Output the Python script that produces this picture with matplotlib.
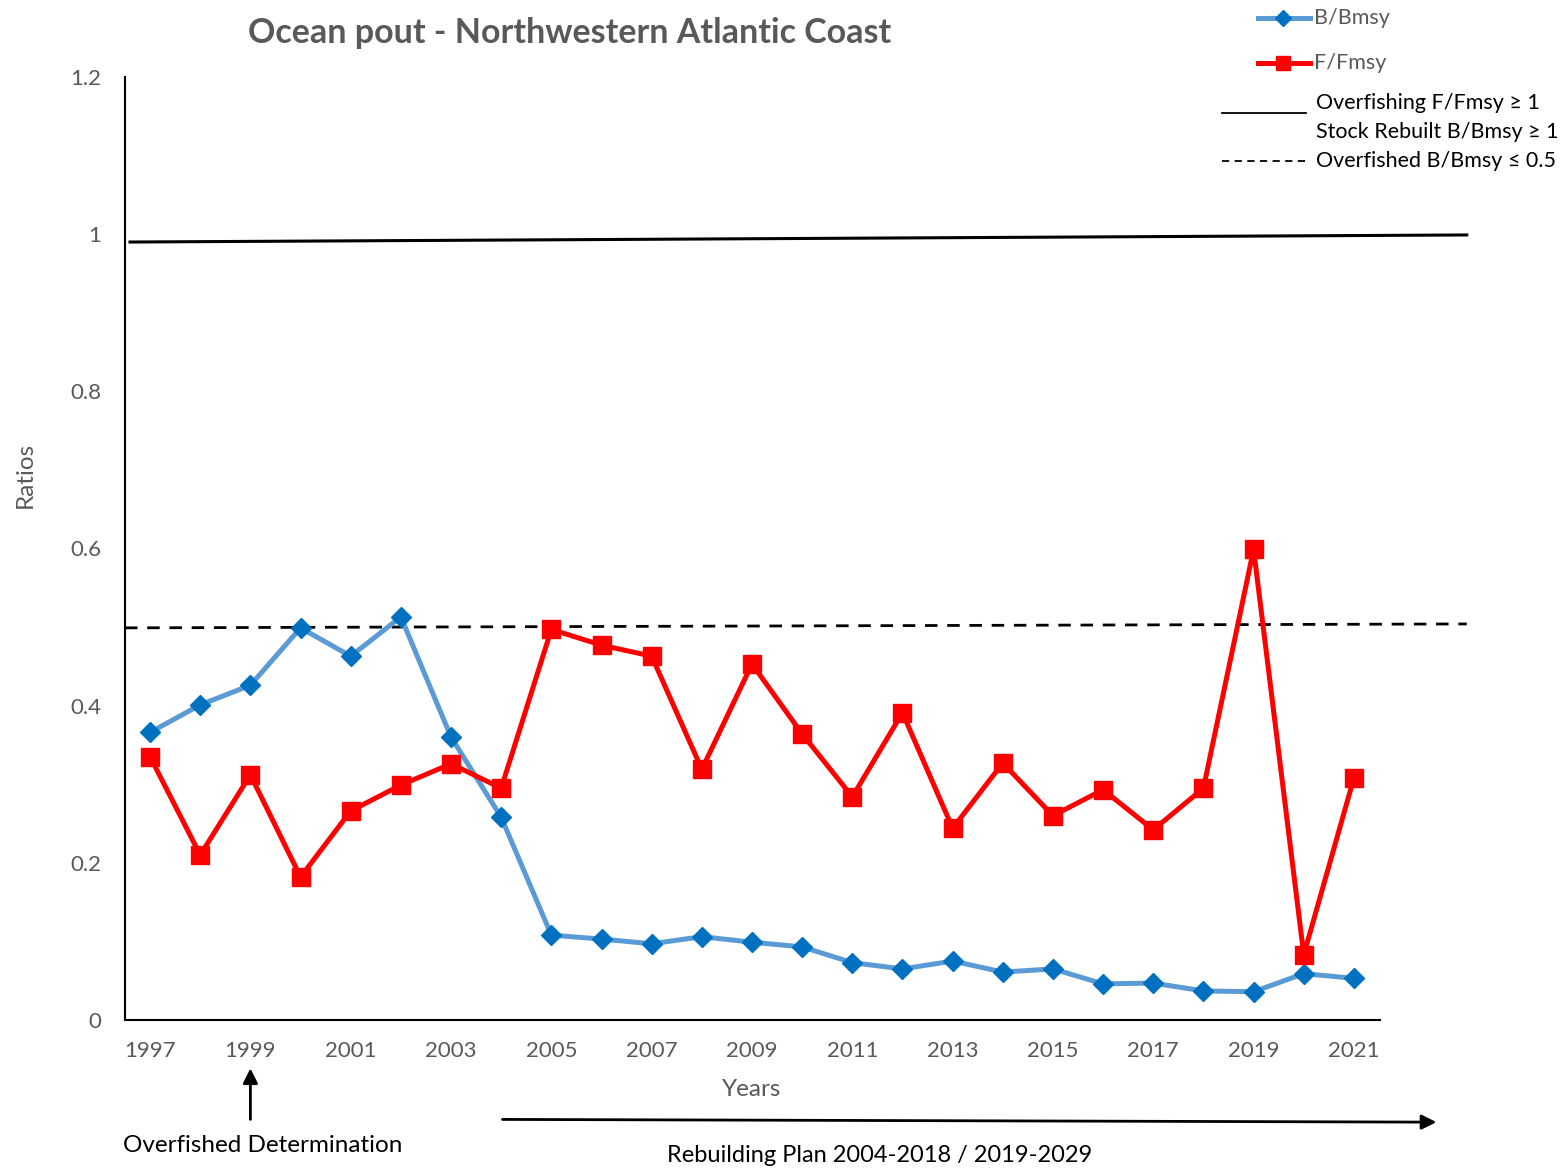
import numpy as np
import matplotlib.pyplot as plt
from matplotlib.lines import Line2D

plt.rcParams['font.family'] = ['Lato', 'DejaVu Sans']

years = list(range(1997, 2022))
b_bmsy = [0.366, 0.401, 0.426, 0.499, 0.463, 0.513, 0.360, 0.258, 0.108, 0.103,
          0.097, 0.106, 0.099, 0.093, 0.073, 0.065, 0.075, 0.061, 0.065, 0.046,
          0.047, 0.037, 0.036, 0.059, 0.053]
f_fmsy = [0.335, 0.210, 0.312, 0.182, 0.266, 0.299, 0.326, 0.295, 0.497, 0.477,
          0.463, 0.319, 0.453, 0.364, 0.284, 0.391, 0.244, 0.327, 0.260, 0.293,
          0.242, 0.295, 0.599, 0.083, 0.308]

# threshold lines as drawn (slightly tilted in the original)
solid_x = [1996.6, 2023.25]
solid_y = [0.990, 0.999]
dash_x = [1996.5, 2023.25]
dash_y = [0.499, 0.504]

tick_years = list(range(1997, 2022, 2))
y_ticks = [0, 0.2, 0.4, 0.6, 0.8, 1.0, 1.2]
y_labels = ["0", "0.2", "0.4", "0.6", "0.8", "1", "1.2"]

GRAY = '#595959'
BLUE_LINE = '#5B9BD5'
BLUE_MARK = '#0070C0'
RED = '#FF0000'

W, H = 1567, 1171
fig = plt.figure(figsize=(W / 100, H / 100), dpi=100)
ax = fig.add_axes([125 / W, 1 - 1020 / H, (1380 - 125) / W, (1020 - 77) / H])


def fx(px):
    return px / W


def fy(py):
    return 1 - py / H


ax.plot(solid_x, solid_y, color='black', lw=2.2, clip_on=False, zorder=2)
ax.plot(dash_x, dash_y, color='black', lw=2.0, ls=(0, (4.5, 3.5)), clip_on=False, zorder=2)

ax.plot(years, b_bmsy, color=BLUE_LINE, lw=3.6, marker='D', ms=10,
        mfc=BLUE_MARK, mec=BLUE_MARK, zorder=3, clip_on=False)
ax.plot(years, f_fmsy, color=RED, lw=3.6, marker='s', ms=13,
        mfc=RED, mec=RED, zorder=4, clip_on=False)

ax.set_xlim(1996.5, 2021.52)
ax.set_ylim(0, 1.2)
ax.set_xticks(tick_years)
ax.set_xticklabels([str(y) for y in tick_years])
ax.set_yticks(y_ticks)
ax.set_yticklabels(y_labels)
ax.tick_params(length=0, labelsize=16, labelcolor=GRAY)
ax.tick_params(axis='x', pad=15)
ax.tick_params(axis='y', pad=17)
for s in ['top', 'right']:
    ax.spines[s].set_visible(False)
for s in ['left', 'bottom']:
    ax.spines[s].set_linewidth(1.5)
    ax.spines[s].set_color('black')

fig.text(fx(25), fy(475), 'Ratios', rotation=90, ha='center', va='center',
         fontsize=17.5, color=GRAY)
fig.text(fx(752), fy(1090), 'Years', ha='center', va='center',
         fontsize=17.5, color=GRAY)
fig.text(fx(570), fy(33), 'Ocean pout - Northwestern Atlantic Coast', ha='center',
         va='center', fontsize=24.5, fontweight='bold', color=GRAY)

# legend, drawn by hand
fig.add_artist(Line2D([fx(1258), fx(1310)], [fy(18), fy(18)], color=BLUE_LINE, lw=3.6,
                      transform=fig.transFigure))
fig.add_artist(Line2D([fx(1283)], [fy(18)], marker='D', ms=8, color=BLUE_MARK,
                      transform=fig.transFigure))
fig.text(fx(1314), fy(18), 'B/Bmsy', ha='left', va='center', fontsize=15.5, color=GRAY)
fig.add_artist(Line2D([fx(1258), fx(1310)], [fy(63), fy(63)], color=RED, lw=3.6,
                      transform=fig.transFigure))
fig.add_artist(Line2D([fx(1283)], [fy(63)], marker='s', ms=10, color=RED,
                      transform=fig.transFigure))
fig.text(fx(1314), fy(63), 'F/Fmsy', ha='left', va='center', fontsize=15.5, color=GRAY)
fig.add_artist(Line2D([fx(1222), fx(1306)], [fy(113), fy(113)], color='black', lw=1.3,
                      transform=fig.transFigure))
fig.text(fx(1316), fy(103), 'Overfishing F/Fmsy ≥ 1', ha='left', va='center',
         fontsize=15.5, color='black')
fig.text(fx(1316), fy(132), 'Stock Rebuilt B/Bmsy ≥ 1', ha='left', va='center',
         fontsize=15.5, color='black')
fig.add_artist(Line2D([fx(1222), fx(1306)], [fy(161), fy(161)], color='black', lw=1.3,
                      ls=(0, (4, 3)), transform=fig.transFigure))
fig.text(fx(1316), fy(161), 'Overfished B/Bmsy ≤ 0.5', ha='left', va='center',
         fontsize=15.5, color='black')

# annotations below the axis
ax.annotate('', xy=(1999, -0.058), xytext=(1999, -0.13), xycoords='data',
            arrowprops=dict(arrowstyle='-|>', color='black', lw=2, mutation_scale=22),
            annotation_clip=False)
fig.text(fx(123), fy(1146), 'Overfished Determination', ha='left', va='center',
         fontsize=17.5, color='black')
ax.annotate('', xy=(2022.7, -0.13), xytext=(2003.97, -0.1265), xycoords='data',
            arrowprops=dict(arrowstyle='-|>', color='black', lw=2, mutation_scale=22),
            annotation_clip=False)
fig.text(fx(880), fy(1156), 'Rebuilding Plan 2004-2018 / 2019-2029', ha='center',
         va='center', fontsize=17, color='black')

fig.savefig('out.png', dpi=100)
